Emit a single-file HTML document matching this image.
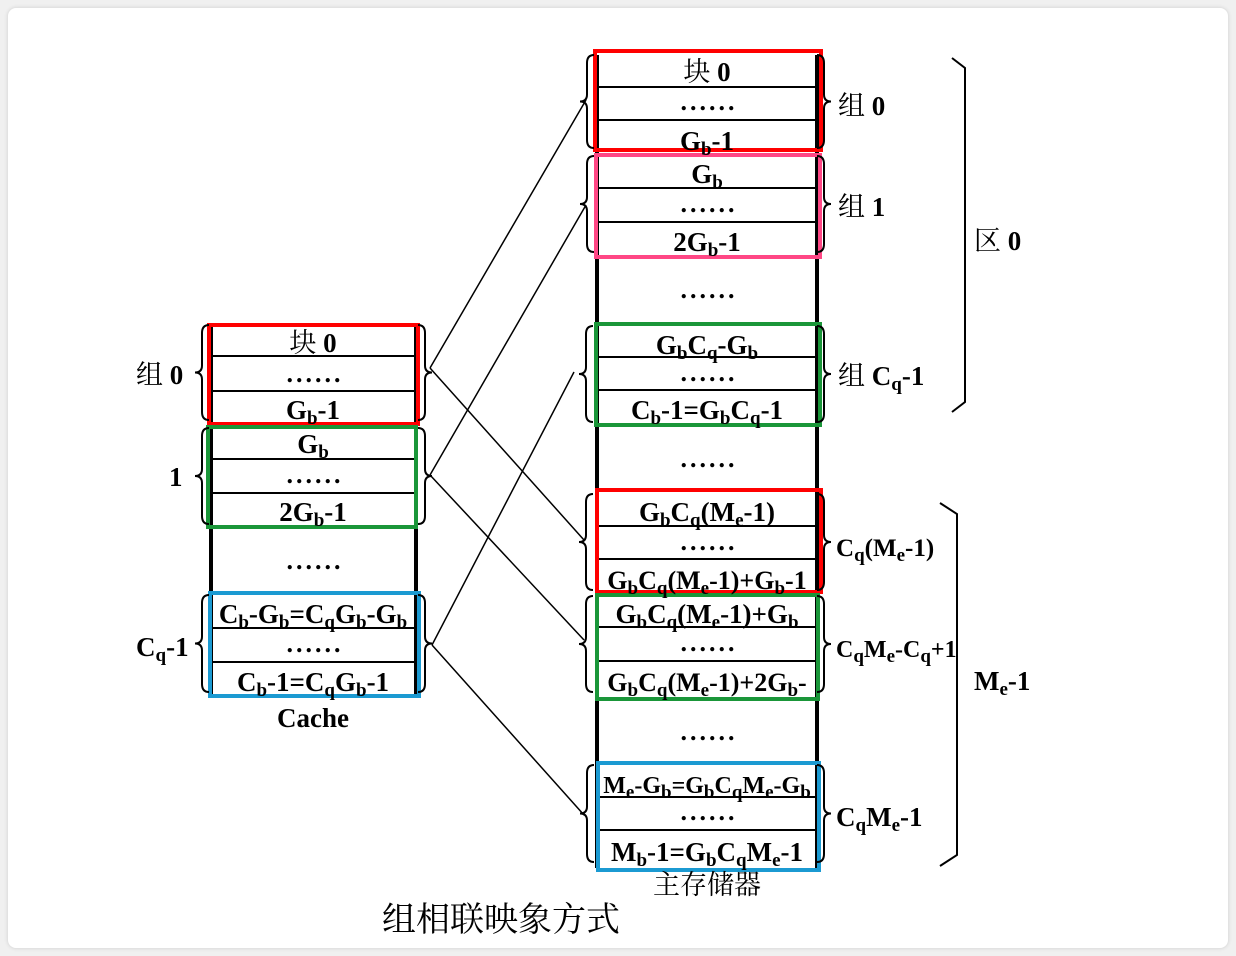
<!DOCTYPE html>
<html><head><meta charset="utf-8"><style>
html,body{margin:0;padding:0;background:#f0f0f0;}
#card{position:absolute;left:8px;top:8px;width:1220px;height:940px;background:#fff;border-radius:8px;box-shadow:0 0 4px rgba(0,0,0,0.15);}
svg{position:absolute;left:0;top:0;}
text{font-family:"Liberation Serif","Noto Serif CJK SC",serif;font-weight:bold;font-size:27px;fill:#000;}
text.c{text-anchor:middle;}
.s{font-size:19px;baseline-shift:-5px;}
.cn{font-family:"Liberation Serif","Noto Serif CJK SC",serif;font-weight:normal;}
.d{font-size:26px;letter-spacing:3px;}
</style></head><body>
<div id="card"></div>
<svg id="svg" width="1236" height="956">
<g id="lines" stroke="#000" stroke-width="2" fill="none">
  <line x1="211" y1="324" x2="211" y2="697" stroke-width="4"/>
  <line x1="416" y1="324" x2="416" y2="697" stroke-width="4"/>
  <line x1="211" y1="356" x2="416" y2="356"/><line x1="211" y1="391" x2="416" y2="391"/>
  <line x1="211" y1="459" x2="416" y2="459"/><line x1="211" y1="493" x2="416" y2="493"/>
  <line x1="211" y1="628" x2="416" y2="628"/><line x1="211" y1="662" x2="416" y2="662"/>
  <line x1="597" y1="55" x2="597" y2="868" stroke-width="4"/>
  <line x1="817" y1="55" x2="817" y2="868" stroke-width="4"/>
  <line x1="597" y1="87" x2="817" y2="87"/><line x1="597" y1="120" x2="817" y2="120"/>
  <line x1="597" y1="188" x2="817" y2="188"/><line x1="597" y1="222" x2="817" y2="222"/>
  <line x1="597" y1="357" x2="817" y2="357"/><line x1="597" y1="390" x2="817" y2="390"/>
  <line x1="597" y1="526" x2="817" y2="526"/><line x1="597" y1="559" x2="817" y2="559"/>
  <line x1="597" y1="627" x2="817" y2="627"/><line x1="597" y1="661" x2="817" y2="661"/>
  <line x1="597" y1="797" x2="817" y2="797"/><line x1="597" y1="830" x2="817" y2="830"/>
</g>
<g fill="none" stroke-width="4">
  <rect x="209" y="325" width="209" height="99" stroke="#f00"/>
  <rect x="208" y="427" width="208" height="100" stroke="#1a9639"/>
  <rect x="210" y="593" width="209" height="103" stroke="#1b9ad2"/>
  <rect x="595" y="51" width="226" height="99" stroke="#f00"/>
  <rect x="596" y="155" width="224" height="102" stroke="#ff4785"/>
  <rect x="596" y="324" width="224" height="101" stroke="#1a9639"/>
  <rect x="597" y="490" width="224" height="102" stroke="#f00"/>
  <rect x="597" y="595" width="221" height="104" stroke="#1a9639"/>
  <rect x="598" y="763" width="221" height="107" stroke="#1b9ad2"/>
</g>
<g stroke="#000" stroke-width="1.5" fill="none">
  <line x1="430" y1="368" x2="586" y2="100"/>
  <line x1="430" y1="368" x2="584" y2="540"/>
  <line x1="430" y1="475" x2="586" y2="205"/>
  <line x1="430" y1="475" x2="584" y2="640"/>
  <line x1="432" y1="645" x2="574" y2="372"/>
  <line x1="432" y1="645" x2="584" y2="815"/>
  <polyline points="952,58 965,68 965,402 952,412" stroke-width="2"/>
  <polyline points="940,503 957,514 957,855 940,866" stroke-width="2"/>
</g>
<g id="braces" stroke="#000" stroke-width="2" fill="none"></g>

<g>
<text class="c" x="313" y="352"><tspan class="cn">块</tspan> 0</text>
<text class="c d" x="315" y="382">......</text>
<text class="c" x="313" y="419">G<tspan class="s">b</tspan>-1</text>
<text class="c" x="313" y="453">G<tspan class="s">b</tspan></text>
<text class="c d" x="315" y="483">......</text>
<text class="c" x="313" y="521">2G<tspan class="s">b</tspan>-1</text>
<text class="c d" x="315" y="569">......</text>
<text class="c" x="313" y="623">C<tspan class="s">b</tspan>-G<tspan class="s">b</tspan>=C<tspan class="s">q</tspan>G<tspan class="s">b</tspan>-G<tspan class="s">b</tspan></text>
<text class="c d" x="315" y="652">......</text>
<text class="c" x="313" y="691">C<tspan class="s">b</tspan>-1=C<tspan class="s">q</tspan>G<tspan class="s">b</tspan>-1</text>
<text class="c" x="313" y="727">Cache</text>
<text x="136" y="384"><tspan class="cn">组</tspan> 0</text>
<text x="169" y="486">1</text>
<text x="136" y="656">C<tspan class="s">q</tspan>-1</text>
</g>
<g>
<text class="c" x="707" y="81"><tspan class="cn">块</tspan> 0</text>
<text class="c d" x="709" y="110">......</text>
<text class="c" x="707" y="150">G<tspan class="s">b</tspan>-1</text>
<text class="c" x="707" y="183">G<tspan class="s">b</tspan></text>
<text class="c d" x="709" y="212">......</text>
<text class="c" x="707" y="251">2G<tspan class="s">b</tspan>-1</text>
<text class="c d" x="709" y="298">......</text>
<text class="c" x="707" y="354">G<tspan class="s">b</tspan>C<tspan class="s">q</tspan>-G<tspan class="s">b</tspan></text>
<text class="c d" x="709" y="381">......</text>
<text class="c" x="707" y="419">C<tspan class="s">b</tspan>-1=G<tspan class="s">b</tspan>C<tspan class="s">q</tspan>-1</text>
<text class="c d" x="709" y="467">......</text>
<text class="c" x="707" y="521">G<tspan class="s">b</tspan>C<tspan class="s">q</tspan>(M<tspan class="s">e</tspan>-1)</text>
<text class="c d" x="709" y="550">......</text>
<text class="c" x="707" y="589" style="font-size:26px">G<tspan class="s">b</tspan>C<tspan class="s">q</tspan>(M<tspan class="s">e</tspan>-1)+G<tspan class="s">b</tspan>-1</text>
<text class="c" x="707" y="623">G<tspan class="s">b</tspan>C<tspan class="s">q</tspan>(M<tspan class="s">e</tspan>-1)+G<tspan class="s">b</tspan></text>
<text class="c d" x="709" y="651">......</text>
<text class="c" x="707" y="691" style="font-size:26px">G<tspan class="s">b</tspan>C<tspan class="s">q</tspan>(M<tspan class="s">e</tspan>-1)+2G<tspan class="s">b</tspan>-</text>
<text class="c d" x="709" y="740">......</text>
<text class="c" x="707" y="793" style="font-size:24px">M<tspan class="s">e</tspan>-G<tspan class="s">b</tspan>=G<tspan class="s">b</tspan>C<tspan class="s">q</tspan>M<tspan class="s">e</tspan>-G<tspan class="s">b</tspan></text>
<text class="c d" x="709" y="820">......</text>
<text class="c" x="707" y="861">M<tspan class="s">b</tspan>-1=G<tspan class="s">b</tspan>C<tspan class="s">q</tspan>M<tspan class="s">e</tspan>-1</text>
<text x="838" y="115"><tspan class="cn">组</tspan> 0</text>
<text x="838" y="216"><tspan class="cn">组</tspan> 1</text>
<text x="838" y="385"><tspan class="cn">组</tspan> C<tspan class="s">q</tspan>-1</text>
<text x="974" y="250"><tspan class="cn">区</tspan> 0</text>
<text x="836" y="556" style="font-size:25px">C<tspan class="s">q</tspan>(M<tspan class="s">e</tspan>-1)</text>
<text x="836" y="657" style="font-size:24px">C<tspan class="s">q</tspan>M<tspan class="s">e</tspan>-C<tspan class="s">q</tspan>+1</text>
<text x="836" y="826">C<tspan class="s">q</tspan>M<tspan class="s">e</tspan>-1</text>
<text x="974" y="690">M<tspan class="s">e</tspan>-1</text>
<text class="c cn" x="707" y="894" style="font-size:27px;font-weight:normal">主存储器</text>
<text class="c cn" x="501" y="931" style="font-size:34px;font-weight:normal">组相联映象方式</text>
</g>
</svg>
<script>
var NS='http://www.w3.org/2000/svg';
var g=document.getElementById('braces');
function brace(x,y1,y2,dir){
  var m=(y1+y2)/2, d=dir*7;
  var p=document.createElementNS(NS,'path');
  p.setAttribute('d','M'+(x+d)+' '+y1+' Q'+x+' '+y1+' '+x+' '+(y1+8)+' L'+x+' '+(m-7)+' Q'+x+' '+m+' '+(x-d)+' '+m+' Q'+x+' '+m+' '+x+' '+(m+7)+' L'+x+' '+(y2-8)+' Q'+x+' '+y2+' '+(x+d)+' '+y2);
  
  
  g.appendChild(p);
}
brace(202,325,420,1);brace(202,428,524,1);brace(202,595,692,1);
brace(425,325,420,-1);brace(425,428,524,-1);brace(425,595,692,-1);
brace(587,55,148,1);brace(587,156,252,1);brace(586,326,422,1);
brace(586,494,590,1);brace(586,596,692,1);brace(587,765,862,1);
brace(824,55,148,-1);brace(824,156,252,-1);brace(824,326,422,-1);
brace(824,494,590,-1);brace(824,596,692,-1);brace(824,765,862,-1);
</script>
</body></html>
